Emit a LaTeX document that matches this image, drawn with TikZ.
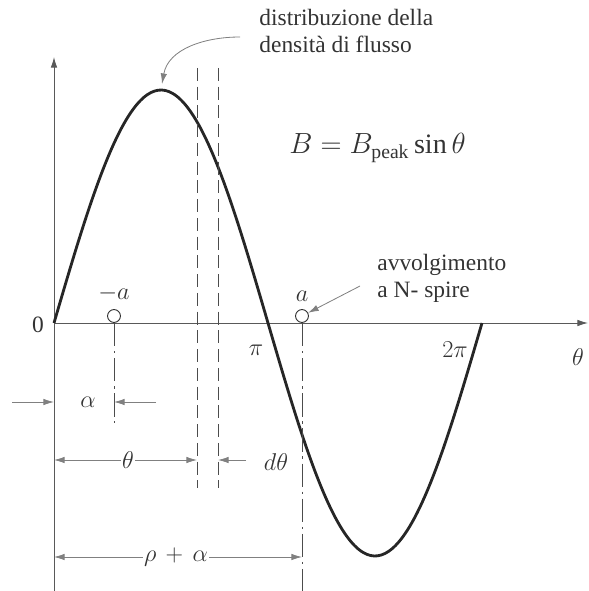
\documentclass[tikz,border=0pt]{standalone}
\usepackage{fontspec}
\setmainfont{Liberation Serif}
\usetikzlibrary{arrows.meta,positioning}

\begin{document}
\begin{tikzpicture}[
    x=0.03cm, y=-0.03cm,
    font=\fontsize{20}{23}\selectfont,
    axis/.style={draw=black!65, line width=0.8pt},
    wave/.style={draw=black!85, line width=2.4pt},
    dim/.style={draw=black!50, line width=0.7pt},
    guide/.style={draw=black!70, line width=0.7pt, dash pattern=on 11pt off 5pt},
    centre/.style={draw=black!70, line width=0.7pt, dash pattern=on 20pt off 4pt on 2pt off 4pt},
    coil/.style={draw=black!80, circle, line width=0.8pt, minimum size=11pt, inner sep=0pt, fill=white},
    lbl/.style={text=black!80, inner sep=1pt},
    >={Latex[length=9pt,width=5.5pt]}
]
\useasboundingbox (0,0) rectangle (588,591);

% axes
\coordinate (ybot) at (54,591);
\coordinate (ytop) at (54,57);
\coordinate (orig) at (54,323);
\coordinate (xend) at (588,323);
\draw[axis,->] (ybot) -- (ytop);
\draw[axis,->] (orig) -- (xend);

% flux density wave
\draw[wave] plot[domain=0:428, samples=120, smooth] ({54+\x}, {323-233*sin(\x/428*360)});
\coordinate (peak) at (162,84);

% strip d theta
\coordinate (g1top) at (197,68);
\coordinate (g1bot) at (197,488);
\coordinate (g2top) at (218,68);
\coordinate (g2bot) at (218,488);
\draw[guide] (g1top) -- (g1bot);
\draw[guide] (g2top) -- (g2bot);

% coil sides
\node[coil] (nega) at (114,316) {};
\node[coil] (posa) at (302,316) {};
\node[lbl, above=5pt of nega] (negalbl) {$-a$};
\node[lbl, above=5pt of posa] (posalbl) {$a$};
\coordinate (negaend) at (114,423);
\coordinate (posaend) at (302,591);
\draw[centre] (nega.south) -- (negaend);
\draw[centre] (posa.south) -- (posaend);

% axis labels
\node[lbl] (zero) at (38,325) {0};
\node[lbl] (pi) at (256,350) {$\pi$};
\node[lbl] (twopi) at (455,350) {$2\pi$};
\node[lbl] (thaxis) at (578,357) {$\theta$};

% alpha
\coordinate (al1) at (12,402);
\coordinate (al2) at (54,402);
\coordinate (al3) at (156,402);
\coordinate (al4) at (114,402);
\draw[dim,->] (al1) -- (al2);
\draw[dim,->] (al3) -- (al4);
\node[lbl] (allbl) at (88,402) {$\alpha$};

% theta
\node[lbl] (thlbl) at (128,460) {$\theta$};
\coordinate (th1) at (54,460);
\coordinate (th2) at (197,460);
\draw[dim,->] (thlbl) -- (th1);
\draw[dim,->] (thlbl) -- (th2);

% d theta
\coordinate (dth1) at (246,460);
\coordinate (dth2) at (218,460);
\draw[dim,->] (dth1) -- (dth2);
\node[lbl] (dthlbl) at (276,462) {$d\theta$};

% theta + alpha
\node[lbl] (rholbl) at (176,557) {$\rho\,+\,\alpha$};
\coordinate (rh1) at (54,557);
\coordinate (rh2) at (302,557);
\draw[dim,->] (rholbl) -- (rh1);
\draw[dim,->] (rholbl) -- (rh2);

% texts
\node[lbl, anchor=west, align=left] (distr) at (258,31) {distribuzione della\\densità di flusso};
\draw[dim,->] (distr.west) ++(-18,6) coordinate (distrstart) to[out=180,in=80] (peak);
\node[lbl, anchor=west, font=\fontsize{24}{28}\selectfont] (formula) at (288,148) {$B = B_{\mathrm{peak}}\sin\theta$};
\node[lbl, anchor=west, align=left] (coiltxt) at (376,278) {avvolgimento\\a N- spire};
\coordinate (coilstart) at (360,286);
\draw[dim,->] (coilstart) -- (posa);
\end{tikzpicture}
\end{document}
